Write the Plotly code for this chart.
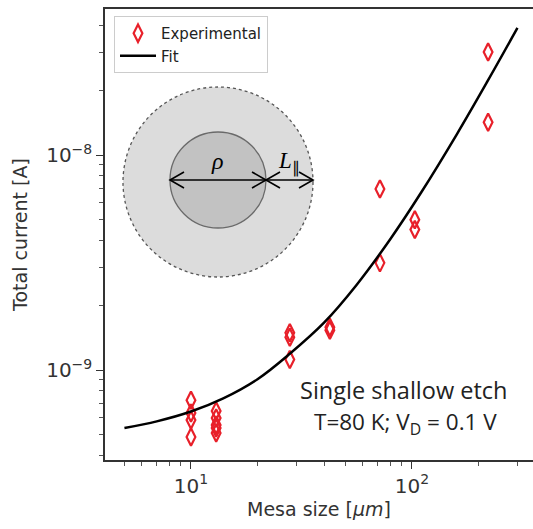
import plotly.graph_objects as go

# ---- data ----
exp_x = [10, 10, 10, 10,
         13, 13, 13, 13, 13,
         28, 28, 28,
         42.5, 42.5,
         71.6, 71.6,
         103, 103,
         221, 221]
exp_y = [7.24e-10, 6.31e-10, 5.85e-10, 4.88e-10,
         6.44e-10, 5.98e-10, 5.55e-10, 5.37e-10, 5.09e-10,
         1.49e-9, 1.42e-9, 1.12e-9,
         1.58e-9, 1.53e-9,
         6.95e-9, 3.15e-9,
         5.0e-9, 4.5e-9,
         3.01e-8, 1.42e-8]

fit_x = [5, 7, 10, 14, 20, 28, 40, 56, 80, 110, 160, 220, 300]
fit_y = [5.37e-10, 5.77e-10, 6.41e-10, 7.38e-10, 9.06e-10, 1.19e-9,
         1.66e-9, 2.48e-9, 4.08e-9, 6.69e-9, 1.255e-8, 2.21e-8, 3.9e-8]

x_tickvals = [10, 100]
x_ticktext = ["10<sup>1</sup>", "10<sup>2</sup>"]
x_minor = [5, 6, 7, 8, 9, 20, 30, 40, 50, 60, 70, 80, 90, 200, 300]
y_tickvals = [1e-9, 1e-8]
y_ticktext = ["10<sup>−9</sup>", "10<sup>−8</sup>"]
y_minor = [4e-10, 5e-10, 6e-10, 7e-10, 8e-10, 9e-10,
           2e-9, 3e-9, 4e-9, 5e-9, 6e-9, 7e-9, 8e-9, 9e-9,
           2e-8, 3e-8, 4e-8]

x_title = "Mesa size [<i>μm</i>]"
y_title = "Total current [A]"
note1 = "Single shallow etch"
note2 = "T=80 K; V<sub>D</sub> = 0.1 V"

# ---- layout geometry (pixels) ----
W, H = 533, 529
L, R, T, B = 105, 533, 9, 460


def px(x):
    return (x - L) / (R - L)


def py(y):
    return (B - y) / (B - T)


fig = go.Figure()
fig.add_trace(go.Scatter(
    x=exp_x, y=exp_y, mode="markers", name="Experimental",
    marker=dict(symbol="diamond-tall-open", size=12.5, color="#e8202a",
                line=dict(width=2.2, color="#e8202a")),
))
fig.add_trace(go.Scatter(
    x=fit_x, y=fit_y, mode="lines", name="Fit", line_shape="spline",
    line=dict(color="black", width=2.5),
))

shapes = []
# inset circles
shapes.append(dict(type="circle", xref="paper", yref="paper", layer="below",
                   x0=px(123), x1=px(313), y0=py(277), y1=py(87),
                   fillcolor="#dcdcdc", line=dict(color="#555555", width=1.3, dash="dot")))
shapes.append(dict(type="circle", xref="paper", yref="paper", layer="below",
                   x0=px(170), x1=px(266), y0=py(228), y1=py(132),
                   fillcolor="#c2c2c2", line=dict(color="#6a6a6a", width=1.3)))


def path(points):
    s = ""
    for i, (a, b) in enumerate(points):
        s += ("M" if i == 0 else "L") + f"{px(a):.5f},{py(b):.5f} "
    return s


ay = 180
shapes.append(dict(type="path", xref="paper", yref="paper", layer="below",
                   path=path([(170, ay), (313, ay)]), line=dict(color="black", width=1.6)))
for tip, d in [(170, 1), (266, -1), (266, 1), (313, -1)]:
    shapes.append(dict(type="path", xref="paper", yref="paper", layer="below",
                       path=path([(tip + 14 * d, ay - 8), (tip, ay), (tip + 14 * d, ay + 8)]),
                       line=dict(color="black", width=1.6)))

annotations = [
    dict(text="<i>ρ</i>", x=px(217), y=py(161), xref="paper", yref="paper",
         xanchor="center", yanchor="middle",
         showarrow=False, font=dict(family="Liberation Serif", size=24, color="black")),
    dict(text="<i>L</i><sub>∥</sub>", x=px(289), y=py(162), xref="paper", yref="paper",
         xanchor="center", yanchor="middle",
         showarrow=False, font=dict(family="Liberation Serif", size=23, color="black")),
    dict(text=note1, x=px(403), y=py(390), xref="paper", yref="paper",
         xanchor="center", yanchor="middle",
         showarrow=False, font=dict(family="Open Sans", size=23.5, color="#222222")),
    dict(text=note2, x=px(405), y=py(423), xref="paper", yref="paper",
         xanchor="center", yanchor="middle",
         showarrow=False, font=dict(family="Open Sans", size=22.5, color="#222222")),
]

axis_common = dict(
    type="log", showgrid=False, zeroline=False, showline=True,
    linecolor="#333333", linewidth=1.5, ticks="outside", ticklen=7,
    tickwidth=1.2, tickcolor="#333333", tickmode="array",
    tickfont=dict(family="DejaVu Sans", size=20, color="#333333"),
)

fig.update_layout(
    width=W, height=H,
    margin=dict(l=L, r=W - R, t=T, b=H - B, autoexpand=False),
    paper_bgcolor="white", plot_bgcolor="white",
    showlegend=True,
    legend=dict(x=px(114), y=py(16), xanchor="left", yanchor="top",
                bgcolor="white", bordercolor="#cccccc", borderwidth=1,
                font=dict(family="DejaVu Sans", size=15, color="#222222"),
                tracegroupgap=0, itemwidth=36),
    xaxis=dict(axis_common, range=[0.611, 2.5475], mirror=True,
               tickvals=x_tickvals, ticktext=x_ticktext,
               minor=dict(ticks="outside", ticklen=4, tickwidth=1, tickcolor="#555555",
                          showgrid=False, tickmode="array", tickvals=x_minor),
               title=dict(text=x_title, standoff=6,
                          font=dict(family="DejaVu Sans", size=19, color="#333333"))),
    yaxis=dict(axis_common, range=[-9.4186, -7.3209],
               tickvals=y_tickvals, ticktext=y_ticktext,
               minor=dict(ticks="outside", ticklen=4, tickwidth=1, tickcolor="#555555",
                          showgrid=False, tickmode="array", tickvals=y_minor),
               title=dict(text=y_title, standoff=14,
                          font=dict(family="DejaVu Sans", size=19, color="#333333"))),
    shapes=shapes,
    annotations=annotations,
)

fig.write_html("out.html")
